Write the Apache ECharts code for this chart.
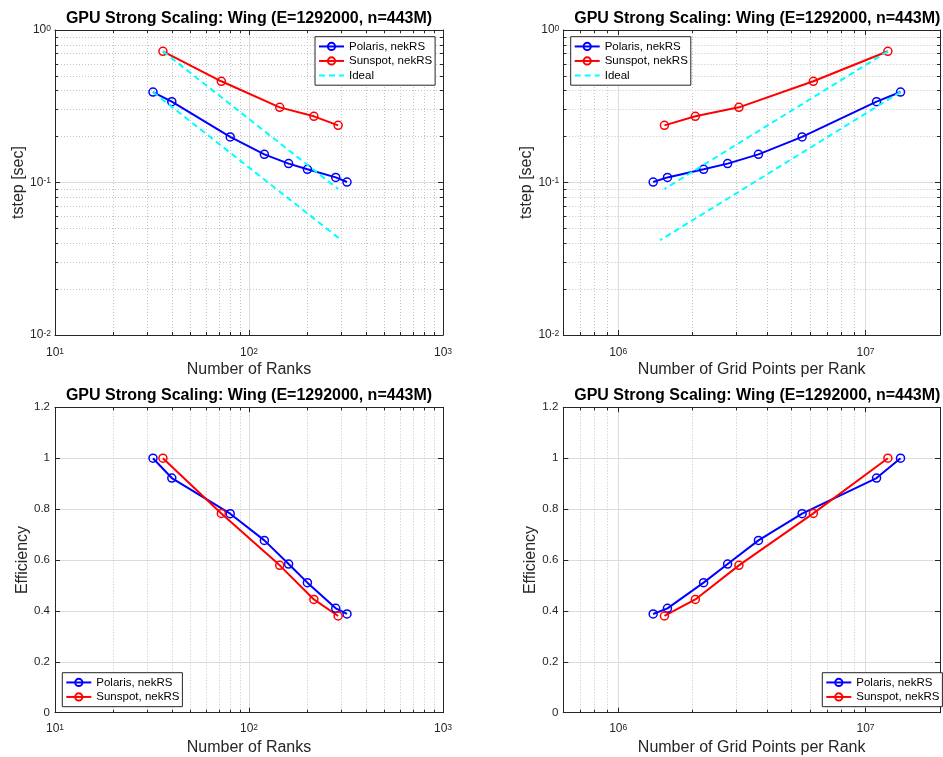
<!DOCTYPE html>
<html>
<head>
<meta charset="utf-8">
<script src="https://cdn.jsdelivr.net/npm/echarts@6/dist/echarts.min.js"></script>
<style>
  html, body { margin: 0; padding: 0; background: #ffffff; }
  #chart { width: 943px; height: 757px; }
</style>
</head>
<body>
<div id="chart"></div>
<script>
// ---- Measured data: nekRS wing case, E=1292000, n=443M ----
const polarisRanks       = [32, 40, 80, 120, 160, 200, 280, 320];
const polarisTstep       = [0.392, 0.339, 0.199, 0.153, 0.133, 0.122, 0.108, 0.1007];
const polarisEfficiency  = [1.0, 0.922, 0.782, 0.677, 0.584, 0.511, 0.410, 0.388];
const polarisPtsPerRank  = [13.85e6, 11.08e6, 5.54e6, 3.69e6, 2.77e6, 2.215e6, 1.582e6, 1.385e6];

const sunspotRanks       = [36, 72, 144, 216, 288];
const sunspotTstep       = [0.725, 0.461, 0.311, 0.2716, 0.237];
const sunspotEfficiency  = [1.0, 0.783, 0.579, 0.445, 0.380];
const sunspotPtsPerRank  = [12.31e6, 6.15e6, 3.077e6, 2.051e6, 1.538e6];

// Ideal (linear) scaling reference lines
const idealPolarisRanks  = [32, 300];
const idealPolarisPts    = [13.85e6, 1.477e6];
const idealPolarisTstep  = [0.392, 0.0418];
const idealSunspotRanks  = [36, 288];
const idealSunspotPts    = [12.31e6, 1.538e6];
const idealSunspotTstep  = [0.725, 0.0906];

const efficiencyTicks    = [0, 0.2, 0.4, 0.6, 0.8, 1, 1.2];

const TITLE = 'GPU Strong Scaling: Wing (E=1292000, n=443M)';
const NAME_POLARIS = 'Polaris, nekRS';
const NAME_SUNSPOT = 'Sunspot, nekRS';
const NAME_IDEAL = 'Ideal';

// ---- Styling ----
const FONT = '"Liberation Sans", Arial, Helvetica, sans-serif';
const AXIS_COLOR = '#262626';
const BLUE = '#0000ff', RED = '#ff0000', CYAN = '#00ffff';
const GRID_MAJOR = '#dcdcdc';
const GRID_MINOR = '#c4c4c4';

const zip = (xs, ys) => xs.map((x, i) => [x, ys[i]]);

function powLabel(v) {
  const e = Math.log10(v);
  const r = Math.round(e);
  if (Math.abs(e - r) > 1e-6) return '';
  return '{b|10}{s|' + r + '}';
}
const powRich = {
  b: { fontSize: 12, fontFamily: FONT, color: AXIS_COLOR, lineHeight: 12, padding: [5, 0, 0, 0], verticalAlign: 'bottom' },
  s: { fontSize: 8.5, fontFamily: FONT, color: AXIS_COLOR, lineHeight: 10, verticalAlign: 'top' }
};

const panels = [
  { left: 55,    top: 30,    width: 388, height: 305,   x: [10, 1000], y: 'logTime', xName: 'Number of Ranks',                yName: 'tstep [sec]', yGap: 25.5, labelGap: 12, title: 249,   titleTop: 11 },
  { left: 563.3, top: 30,    width: 388, height: 305,   x: [6e5, 2e7], y: 'logTime', xName: 'Number of Grid Points per Rank', yName: 'tstep [sec]', yGap: 26.6, labelGap: 12, title: 757.3, titleTop: 11 },
  { left: 55,    top: 407.3, width: 388, height: 305.4, x: [10, 1000], y: 'eff',     xName: 'Number of Ranks',                yName: 'Efficiency',  yGap: 21.7, labelGap: 10, title: 249,   titleTop: 388 },
  { left: 563.3, top: 407.3, width: 388, height: 305.4, x: [6e5, 2e7], y: 'eff',     xName: 'Number of Grid Points per Rank', yName: 'Efficiency',  yGap: 21.6, labelGap: 10, title: 757.3, titleTop: 388 }
];

const grid = [], xAxis = [], yAxis = [], title = [];

const axisLine = { show: true, onZero: false, lineStyle: { color: AXIS_COLOR, width: 1 } };
const tick = { show: true, inside: true, length: 5, lineStyle: { color: AXIS_COLOR, width: 1 } };
const minor = { show: true, splitNumber: 9, length: 3, lineStyle: { color: AXIS_COLOR, width: 1 } };

panels.forEach((p, i) => {
  grid.push({ left: p.left, top: p.top, width: p.width, height: p.height });
  title.push({
    text: TITLE, left: p.title, top: p.titleTop, textAlign: 'center', padding: 0,
    textStyle: { fontSize: 16, fontWeight: 'bold', fontFamily: FONT, color: '#000', lineHeight: 16 }
  });

  // bottom x axis (labels, grid) and mirrored top x axis (ticks only)
  const xBase = { type: 'log', logBase: 10, gridIndex: i, min: p.x[0], max: p.x[1] };
  xAxis.push(Object.assign({}, xBase, {
    position: 'bottom', axisLine, axisTick: tick, minorTick: minor,
    splitLine: { show: true, lineStyle: { color: GRID_MAJOR, width: 1 } },
    minorSplitLine: { show: true, lineStyle: { color: GRID_MINOR, width: 1, type: [1, 2] } },
    axisLabel: { formatter: powLabel, rich: powRich, margin: p.labelGap, showMinLabel: true, showMaxLabel: true },
    name: p.xName, nameLocation: 'middle', nameGap: 27,
    nameTextStyle: { fontSize: 16, fontFamily: FONT, color: AXIS_COLOR }
  }));
  xAxis.push(Object.assign({}, xBase, {
    position: 'top', axisLine, axisTick: tick, minorTick: minor,
    splitLine: { show: false }, minorSplitLine: { show: false }, axisLabel: { show: false }
  }));

  let yBase;
  if (p.y === 'logTime') {
    yBase = { type: 'log', logBase: 10, gridIndex: i, min: 0.01, max: 1 };
  } else {
    yBase = { type: 'value', gridIndex: i, min: efficiencyTicks[0], max: efficiencyTicks[efficiencyTicks.length - 1], interval: 0.2 };
  }
  const isLog = p.y === 'logTime';
  yAxis.push(Object.assign({}, yBase, {
    position: 'left', axisLine, axisTick: tick, minorTick: isLog ? minor : { show: false },
    splitLine: { show: true, lineStyle: { color: GRID_MAJOR, width: 1 } },
    minorSplitLine: { show: isLog, lineStyle: { color: GRID_MINOR, width: 1, type: [1, 2] } },
    axisLabel: isLog
      ? { formatter: powLabel, rich: powRich, margin: 4 }
      : { formatter: v => String(Math.round(v * 10) / 10), margin: 5, fontSize: 11.5, fontFamily: FONT, color: AXIS_COLOR },
    name: p.yName, nameLocation: 'middle', nameGap: p.yGap, nameRotate: 90,
    nameTextStyle: { fontSize: 16, fontFamily: FONT, color: AXIS_COLOR }
  }));
  yAxis.push(Object.assign({}, yBase, {
    position: 'right', axisLine, axisTick: tick, minorTick: isLog ? minor : { show: false },
    splitLine: { show: false }, minorSplitLine: { show: false }, axisLabel: { show: false }
  }));
});

function dataSeries(name, color, data, i) {
  return {
    type: 'line', name, data, xAxisIndex: 2 * i, yAxisIndex: 2 * i,
    symbol: 'circle', symbolSize: 8, showSymbol: true,
    lineStyle: { color, width: 2 },
    itemStyle: { color: 'none', borderColor: color, borderWidth: 1.5 },
    emphasis: { disabled: true }, silent: true, z: 3
  };
}
function idealSeries(data, i) {
  return {
    type: 'line', name: NAME_IDEAL, data, xAxisIndex: 2 * i, yAxisIndex: 2 * i,
    symbol: 'none', lineStyle: { color: CYAN, width: 2, type: [6, 4] },
    itemStyle: { color: CYAN },
    emphasis: { disabled: true }, silent: true, z: 4
  };
}

const series = [
  // ranks vs time per step
  dataSeries(NAME_POLARIS, BLUE, zip(polarisRanks, polarisTstep), 0),
  dataSeries(NAME_SUNSPOT, RED, zip(sunspotRanks, sunspotTstep), 0),
  idealSeries(zip(idealPolarisRanks, idealPolarisTstep), 0),
  idealSeries(zip(idealSunspotRanks, idealSunspotTstep), 0),
  // grid points per rank vs time per step
  dataSeries(NAME_POLARIS, BLUE, zip(polarisPtsPerRank, polarisTstep), 1),
  dataSeries(NAME_SUNSPOT, RED, zip(sunspotPtsPerRank, sunspotTstep), 1),
  idealSeries(zip(idealPolarisPts, idealPolarisTstep), 1),
  idealSeries(zip(idealSunspotPts, idealSunspotTstep), 1),
  // ranks vs efficiency
  dataSeries(NAME_POLARIS, BLUE, zip(polarisRanks, polarisEfficiency), 2),
  dataSeries(NAME_SUNSPOT, RED, zip(sunspotRanks, sunspotEfficiency), 2),
  // grid points per rank vs efficiency
  dataSeries(NAME_POLARIS, BLUE, zip(polarisPtsPerRank, polarisEfficiency), 3),
  dataSeries(NAME_SUNSPOT, RED, zip(sunspotPtsPerRank, sunspotEfficiency), 3)
];

// the dashed reference line has no marker in its legend entry
const idealLegendItem = { name: NAME_IDEAL, itemStyle: { color: 'none', borderWidth: 0, opacity: 0 } };

function legendBox(left, top, names) {
  return {
    left, top, orient: 'vertical', data: names, selectedMode: false,
    itemWidth: 25, itemHeight: 9, itemGap: 1, padding: [3, 3, 3, 3],
    borderColor: AXIS_COLOR, borderWidth: 1, backgroundColor: '#ffffff',
    textStyle: { fontSize: 11.5, fontFamily: FONT, color: '#000', lineHeight: 13.5 }
  };
}

const legend = [
  legendBox(315, 36.7, [NAME_POLARIS, NAME_SUNSPOT, idealLegendItem]),
  legendBox(570.7, 36.7, [NAME_POLARIS, NAME_SUNSPOT, idealLegendItem]),
  legendBox(62.3, 672.7, [NAME_POLARIS, NAME_SUNSPOT]),
  legendBox(822.3, 672.7, [NAME_POLARIS, NAME_SUNSPOT])
];

const chart = echarts.init(document.getElementById('chart'), null, { renderer: 'canvas' });
chart.setOption({
  animation: false,
  backgroundColor: '#ffffff',
  textStyle: { fontFamily: FONT },
  title, grid, xAxis, yAxis, legend, series
});
</script>
</body>
</html>
